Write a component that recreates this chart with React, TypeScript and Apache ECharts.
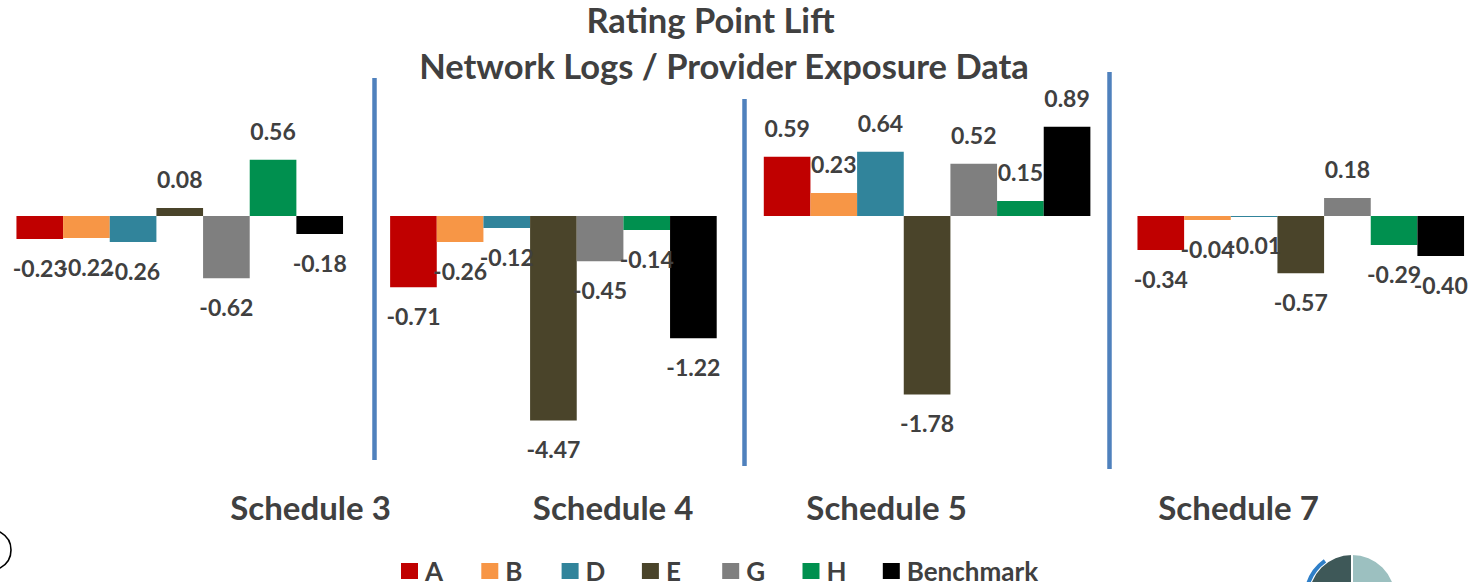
import React, { useEffect, useRef } from "react";
import * as echarts from "echarts";

const categories = ["Schedule 3", "Schedule 4", "Schedule 5", "Schedule 7"];
const seriesNames = ["A", "B", "D", "E", "G", "H", "Benchmark"];
const valuesA = [-0.23, -0.71, 0.59, -0.34];
const valuesB = [-0.22, -0.26, 0.23, -0.04];
const valuesD = [-0.26, -0.12, 0.64, -0.01];
const valuesE = [0.08, -4.47, -1.78, -0.57];
const valuesG = [-0.62, -0.45, 0.52, 0.18];
const valuesH = [0.56, -0.14, 0.15, -0.29];
const valuesBenchmark = [-0.18, -1.22, 0.89, -0.4];
const seriesColors = ["#C00000", "#F79646", "#31849B", "#4A442A", "#7F7F7F", "#00904F", "#000000"];
const titleLines = ["Rating Point Lift", "Network Logs / Provider Exposure Data"];

const FONT = "Lato, 'Open Sans', sans-serif";
const TEXT = "#404040";

export default function App() {
  const ref = useRef<HTMLDivElement>(null);
  useEffect(() => {
    if (!ref.current) return;
    const chart = echarts.init(ref.current, undefined, { renderer: "svg" });
    const allValues = [valuesA, valuesB, valuesD, valuesE, valuesG, valuesH, valuesBenchmark];
    // horizontal offsets of the category titles (px, from the category centre)
    const labelShift = [130.8, 59.7, -40.5, -62.2];
    const rich: any = {};
    labelShift.forEach((s, i) => {
      rich["c" + i] = {
        fontFamily: FONT,
        fontWeight: "bold",
        fontSize: 33,
        lineHeight: 36,
        color: TEXT,
        padding: s >= 0 ? [0, 0, 0, 2 * s] : [0, -2 * s, 0, 0],
      };
    });
    chart.setOption({
      animation: false,
      backgroundColor: "#ffffff",
      textStyle: { fontFamily: FONT },
      grid: {
        left: -7.1,
        right: -13.6,
        top: 115.7,
        bottom: 161.4,
        containLabel: false,
        outerBoundsMode: "none",
      },
      legend: {
        data: seriesNames,
        left: 396,
        top: 553,
        itemWidth: 17,
        itemHeight: 16,
        itemGap: 16.3,
        icon: "rect",
        textStyle: {
          fontFamily: FONT,
          fontWeight: "bold",
          fontSize: 26,
          lineHeight: 26,
          color: TEXT,
          width: 40,
          padding: [0, 0, 0, 2],
        },
      },
      xAxis: {
        type: "category",
        data: categories,
        axisLine: { show: false, onZero: false },
        axisTick: { show: false },
        splitLine: { show: false },
        axisLabel: {
          interval: 0,
          margin: 68.4,
          hideOverlap: false,
          formatter: (v: string, i: number) => `{c${i}|${v}}`,
          rich,
        },
      },
      yAxis: {
        type: "value",
        min: -2.04,
        max: 1.0,
        show: false,
        splitLine: { show: false },
      },
      series: seriesNames.map((name, i) => ({
        name,
        type: "bar",
        data: allValues[i],
        barGap: "0%",
        barCategoryGap: "12.6%",
        clip: true,
        itemStyle: { color: seriesColors[i] },
        label: {
          show: true,
          position: "outside",
          distance: 17,
          fontFamily: FONT,
          fontWeight: "bold",
          fontSize: 23,
          color: TEXT,
          formatter: (p: any) => Number(p.value).toFixed(2),
        },
      })),
      graphic: [
        {
          type: "text",
          x: 710.5,
          y: 19,
          style: {
            text: titleLines[0],
            fontFamily: FONT,
            fontWeight: "bold",
            fontSize: 34.5,
            lineHeight: 34,
            fill: TEXT,
            textAlign: "center",
            textVerticalAlign: "middle",
          },
        },
        {
          type: "text",
          x: 724,
          y: 65.5,
          style: {
            text: titleLines[1],
            fontFamily: FONT,
            fontWeight: "bold",
            fontSize: 34.5,
            lineHeight: 34,
            fill: TEXT,
            textAlign: "center",
            textVerticalAlign: "middle",
          },
        },
        { type: "line", shape: { x1: 374.5, y1: 78, x2: 374.5, y2: 460 }, style: { stroke: "#4F81BD", lineWidth: 4.5 } },
        { type: "line", shape: { x1: 744.5, y1: 99, x2: 744.5, y2: 466 }, style: { stroke: "#4F81BD", lineWidth: 4.5 } },
        { type: "line", shape: { x1: 1109.5, y1: 72, x2: 1109.5, y2: 469 }, style: { stroke: "#4F81BD", lineWidth: 4.5 } },
        { type: "circle", shape: { cx: -9, cy: 550, r: 20 }, style: { fill: "none", stroke: "#000", lineWidth: 1.6 } },
        {
          type: "group",
          children: [
            { type: "arc", shape: { cx: 1352, cy: 598, r: 46, startAngle: Math.PI * 1.03, endAngle: Math.PI * 1.3 }, style: { stroke: "#2F7FC8", lineWidth: 4, fill: "none" } },
            { type: "sector", shape: { cx: 1352, cy: 598, r: 43, r0: 14, startAngle: Math.PI, endAngle: Math.PI * 1.5 }, style: { fill: "#3E5858" } },
            { type: "sector", shape: { cx: 1352, cy: 598, r: 43, r0: 14, startAngle: Math.PI * 1.5, endAngle: Math.PI * 2 }, style: { fill: "#9CC0C0" } },
            { type: "line", shape: { x1: 1352, y1: 552, x2: 1352, y2: 584 }, style: { stroke: "#fff", lineWidth: 2 } },
            { type: "circle", shape: { cx: 1352, cy: 598, r: 14 }, style: { fill: "#fff", stroke: "#9aa", lineWidth: 1 } },
          ],
        },
      ],
    });
    return () => chart.dispose();
  }, []);
  return (
    <div
      ref={ref}
      style={{ position: "absolute", left: 0, top: 0, width: 1474, height: 582 }}
    />
  );
}
